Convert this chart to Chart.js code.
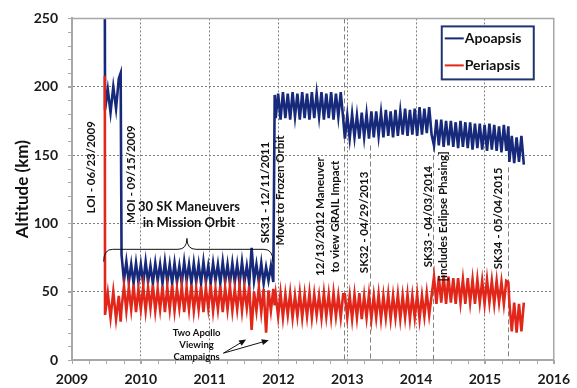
<!DOCTYPE html>
<html>
<head>
<meta charset="utf-8">
<script src="https://cdn.jsdelivr.net/npm/chart.js@4.4.1/dist/chart.umd.min.js"></script>
<style>
  html, body { margin: 0; padding: 0; background: #ffffff; }
  canvas { display: block; }
</style>
</head>
<body>
<canvas id="orbitChart" width="577" height="388"></canvas>
<script>
// ---- Orbit history: sample epochs (decimal years) ----
const orbitYears = [
  // LOI and commissioning orbit
  2009.477, 2009.480, 2009.520, 2009.560, 2009.600, 2009.640, 2009.680, 2009.707,
  // mission orbit
  2009.720, 2009.755, 2009.790, 2009.825, 2009.860, 2009.895, 2009.930, 2009.965,
  2010.000, 2010.035, 2010.070, 2010.105, 2010.140, 2010.175, 2010.210, 2010.245,
  2010.280, 2010.315, 2010.350, 2010.385, 2010.420, 2010.455, 2010.490, 2010.525,
  2010.560, 2010.595, 2010.630, 2010.665, 2010.700, 2010.735, 2010.770, 2010.805,
  2010.840, 2010.875, 2010.910, 2010.945, 2010.980, 2011.015, 2011.050, 2011.085,
  2011.120, 2011.155, 2011.190, 2011.225, 2011.260, 2011.295, 2011.330, 2011.365,
  2011.400, 2011.435, 2011.470, 2011.505, 2011.540, 2011.575, 2011.610, 2011.645,
  2011.680, 2011.715, 2011.750, 2011.785, 2011.820, 2011.855, 2011.890, 2011.925,
  // frozen orbit
  2011.945,
  2011.960, 2011.995, 2012.030, 2012.065, 2012.100, 2012.135, 2012.170, 2012.205,
  2012.240, 2012.275, 2012.310, 2012.345, 2012.380, 2012.415, 2012.450, 2012.485,
  2012.520, 2012.555, 2012.590, 2012.625, 2012.660, 2012.695, 2012.730, 2012.765,
  2012.800, 2012.835, 2012.870, 2012.905, 2012.940,
  // after the GRAIL impact maneuver
  2012.965, 2013.000, 2013.035, 2013.070, 2013.105, 2013.140, 2013.175, 2013.210,
  2013.245, 2013.280, 2013.315, 2013.350, 2013.385, 2013.420, 2013.455, 2013.490,
  2013.525, 2013.560, 2013.595, 2013.630, 2013.665, 2013.700, 2013.735, 2013.770,
  2013.805, 2013.840, 2013.875, 2013.910, 2013.945, 2013.980, 2014.015, 2014.050,
  2014.085, 2014.120, 2014.155, 2014.190, 2014.225,
  // after SK33
  2014.260, 2014.295, 2014.330, 2014.365, 2014.400, 2014.435, 2014.470, 2014.505,
  2014.540, 2014.575, 2014.610, 2014.645, 2014.680, 2014.715, 2014.750, 2014.785,
  2014.820, 2014.855, 2014.890, 2014.925, 2014.960, 2014.995, 2015.030, 2015.065,
  2015.100, 2015.135, 2015.170, 2015.205, 2015.240, 2015.275, 2015.310,
  // after SK34
  2015.340,
  2015.355, 2015.390, 2015.425, 2015.460, 2015.495, 2015.530, 2015.565
];

// ---- Apoapsis altitude (km) ----
const apoapsisKm = [
  260, 183, 198, 181, 200, 184, 206, 210,
  77, 58, 72, 57, 70, 56, 71, 57,
  70, 56, 72, 57, 69, 56, 71, 58,
  70, 56, 72, 57, 70, 56, 71, 57,
  69, 56, 72, 58, 70, 56, 71, 57,
  70, 56, 72, 57, 69, 56, 71, 58,
  70, 56, 72, 57, 70, 56, 71, 57,
  70, 56, 72, 57, 69, 56, 82, 58,
  70, 57, 71, 56, 68, 58, 69, 57,
  194,
  177, 195, 176, 196, 177, 195, 176, 196,
  178, 195, 176, 196, 177, 195, 176, 196,
  177, 195, 178, 196, 176, 195, 177, 196,
  176, 195, 178, 196, 177,
  162, 179, 162, 180, 163, 179, 162, 181,
  163, 180, 162, 182, 163, 182, 164, 181,
  163, 183, 164, 182, 163, 183, 164, 182,
  165, 184, 164, 183, 165, 184, 164, 185,
  165, 184, 166, 185, 165,
  157, 176, 157, 176, 156, 175, 157, 175,
  156, 174, 155, 175, 156, 174, 155, 174,
  154, 173, 155, 173, 154, 172, 153, 173,
  154, 172, 153, 171, 152, 172, 153,
  171,
  145, 164, 144, 163, 145, 164, 143
];

// ---- Periapsis altitude (km) ----
const periapsisKm = [
  208, 33, 49, 31, 50, 30, 47, 28,
  38, 54, 36, 53, 37, 55, 35, 52,
  37, 54, 36, 53, 38, 55, 36, 52,
  37, 54, 35, 53, 37, 55, 36, 52,
  38, 54, 35, 53, 37, 55, 36, 52,
  37, 54, 35, 53, 38, 55, 36, 52,
  37, 54, 35, 53, 37, 54, 36, 52,
  37, 54, 36, 53, 38, 54, 22, 50,
  36, 53, 35, 52, 20, 51, 36, 52,
  40,
  48, 32, 49, 31, 48, 33, 49, 31,
  47, 32, 49, 31, 48, 32, 49, 31,
  48, 33, 47, 31, 49, 32, 48, 31,
  49, 32, 47, 31, 48,
  48, 31, 47, 30, 48, 31, 49, 30,
  47, 31, 48, 30, 47, 31, 48, 30,
  47, 31, 48, 30, 47, 31, 48, 30,
  47, 31, 48, 30, 47, 31, 48, 30,
  47, 32, 49, 33, 47,
  61, 41, 61, 42, 62, 41, 61, 42,
  60, 41, 60, 42, 59, 41, 60, 42,
  59, 41, 59, 42, 58, 41, 59, 42,
  58, 41, 58, 42, 57, 41, 58,
  57,
  42, 21, 42, 20, 41, 21, 42
];

const seriesNames = ['Apoapsis', 'Periapsis'];
const yearTicks = [2009, 2010, 2011, 2012, 2013, 2014, 2015, 2016];
const altitudeTicks = [0, 50, 100, 150, 200, 250];
const axisTitle = 'Altitude (km)';

// Maneuver dates marked with dashed lines
const markerYears = [2012.95, 2013.325, 2014.25, 2015.34];

// Event notes (text only)
const noteTexts = [
  ['LOI - 06/23/2009'],
  ['MOI - 09/15/2009'],
  ['SK31 - 12/11/2011'],
  ['Move to Frozen Orbit'],
  ['12/13/2012 Maneuver', 'to view GRAIL Impact'],
  ['SK32 - 04/29/2013'],
  ['SK33 - 04/03/2014', '[includes Eclipse Phasing]'],
  ['SK34 - 05/04/2015']
];
const braceText = ['30 SK Maneuvers', 'in Mission Orbit'];
const campaignText = ['Two Apollo', 'Viewing', 'Campaigns'];

// ---- Placement of the annotations (data units: year, km) ----
const layout = {
  markerTopKm: [250, 157, 156, 141],
  noteAnchors: [
    [2009.287, 141], [2009.862, 136], [2011.803, 122.5], [2012.033, 124],
    [2012.716, 105], [2013.240, 100.7], [2014.282, 105], [2015.195, 103.6]
  ],
  braceLabel: [2010.70, 106],
  brace: { from: 2009.46, to: 2011.92, tip: 2010.67, endKm: 72, barKm: 81, tipKm: 89 },
  campaignLabel: [2010.81, 11],
  arrowFrom: [2011.20, 5],
  arrowTo: [[2011.53, 15], [2011.86, 14.5]]
};

const APO_COLOR = '#17297a';
const PERI_COLOR = '#e2261a';
const FONT = 'Lato';

function pointsFor(values) {
  return orbitYears.map((t, i) => ({ x: t, y: values[i] }));
}

function verticalText(ctx, lines, cx, cy, gap) {
  ctx.save();
  ctx.translate(cx, cy);
  ctx.rotate(-Math.PI / 2);
  ctx.textAlign = 'center';
  ctx.textBaseline = 'middle';
  const n = lines.length;
  lines.forEach((t, i) => ctx.fillText(t, 0, (i - (n - 1) / 2) * gap));
  ctx.restore();
}

function arrow(ctx, x0, y0, x1, y1) {
  const a = Math.atan2(y1 - y0, x1 - x0);
  const len = 7, half = 3;
  ctx.beginPath();
  ctx.moveTo(x0, y0);
  ctx.lineTo(x1 - Math.cos(a) * len * 0.8, y1 - Math.sin(a) * len * 0.8);
  ctx.stroke();
  ctx.beginPath();
  ctx.moveTo(x1, y1);
  ctx.lineTo(x1 - Math.cos(a) * len - Math.sin(a) * half, y1 - Math.sin(a) * len + Math.cos(a) * half);
  ctx.lineTo(x1 - Math.cos(a) * len + Math.sin(a) * half, y1 - Math.sin(a) * len - Math.cos(a) * half);
  ctx.closePath();
  ctx.fill();
}

const decorPlugin = {
  id: 'decor',
  beforeDatasetsDraw(chart) {
    const { ctx, scales: { x, y }, chartArea } = chart;
    ctx.save();
    ctx.strokeStyle = '#808080';
    ctx.lineWidth = 1;
    ctx.setLineDash([5, 3]);
    markerYears.forEach((yr, i) => {
      const xp = Math.round(x.getPixelForValue(yr)) + 0.5;
      ctx.beginPath();
      ctx.moveTo(xp, y.getPixelForValue(layout.markerTopKm[i]));
      ctx.lineTo(xp, chartArea.bottom);
      ctx.stroke();
    });
    ctx.restore();
  },
  afterDraw(chart) {
    const { ctx, scales: { x, y }, chartArea: ca } = chart;
    ctx.save();

    // frame on top and right
    ctx.strokeStyle = '#a8a8a8';
    ctx.lineWidth = 1.5;
    ctx.beginPath();
    ctx.moveTo(ca.left, ca.top);
    ctx.lineTo(ca.right, ca.top);
    ctx.lineTo(ca.right, ca.bottom);
    ctx.stroke();

    // minor ticks
    ctx.strokeStyle = '#a8a8a8';
    ctx.lineWidth = 1;
    for (let v = 0; v <= 250; v += 10) {
      const yp = Math.round(y.getPixelForValue(v)) + 0.5;
      ctx.beginPath(); ctx.moveTo(ca.left - 4, yp); ctx.lineTo(ca.left, yp); ctx.stroke();
    }
    for (let t = 2009; t <= 2016.001; t += 0.25) {
      const xp = Math.round(x.getPixelForValue(t)) + 0.5;
      ctx.beginPath(); ctx.moveTo(xp, ca.bottom); ctx.lineTo(xp, ca.bottom + 4); ctx.stroke();
    }

    // event notes
    ctx.fillStyle = '#111111';
    ctx.font = `bold 11.5px ${FONT}`;
    noteTexts.forEach((lines, i) => {
      const [yr, km] = layout.noteAnchors[i];
      verticalText(ctx, lines, x.getPixelForValue(yr), y.getPixelForValue(km), 15);
    });

    // brace over the mission orbit
    const b = layout.brace;
    const xl = x.getPixelForValue(b.from), xr = x.getPixelForValue(b.to), xt = x.getPixelForValue(b.tip);
    const ye = y.getPixelForValue(b.endKm), yb = y.getPixelForValue(b.barKm), yt = y.getPixelForValue(b.tipKm);
    const r = 9;
    ctx.strokeStyle = '#111111';
    ctx.lineWidth = 1;
    ctx.beginPath();
    ctx.moveTo(xl, ye);
    ctx.quadraticCurveTo(xl, yb, xl + r, yb);
    ctx.lineTo(xt - r, yb);
    ctx.quadraticCurveTo(xt, yb, xt, yt);
    ctx.quadraticCurveTo(xt, yb, xt + r, yb);
    ctx.lineTo(xr - r, yb);
    ctx.quadraticCurveTo(xr, yb, xr, ye);
    ctx.stroke();

    ctx.font = `bold 13px ${FONT}`;
    ctx.textAlign = 'center';
    ctx.textBaseline = 'middle';
    const bx = x.getPixelForValue(layout.braceLabel[0]);
    const by = y.getPixelForValue(layout.braceLabel[1]);
    braceText.forEach((t, i) => ctx.fillText(t, bx, by + (i - 0.5) * 16));

    // Apollo viewing campaigns note and arrows
    ctx.font = `bold 9.5px ${FONT}`;
    const cx = x.getPixelForValue(layout.campaignLabel[0]);
    const cy = y.getPixelForValue(layout.campaignLabel[1]);
    campaignText.forEach((t, i) => ctx.fillText(t, cx, cy + (i - 1) * 12));
    ctx.fillStyle = '#111111';
    const ax = x.getPixelForValue(layout.arrowFrom[0]), ay = y.getPixelForValue(layout.arrowFrom[1]);
    layout.arrowTo.forEach(([t, km]) => arrow(ctx, ax, ay, x.getPixelForValue(t), y.getPixelForValue(km)));

    // legend box
    const lx = ca.right - 112, ly = ca.top + 8, lw = 92, lh = 53;
    ctx.fillStyle = '#ffffff';
    ctx.fillRect(lx, ly, lw, lh);
    ctx.strokeStyle = '#1f3570';
    ctx.lineWidth = 2;
    ctx.strokeRect(lx, ly, lw, lh);
    ctx.font = `bold 14px ${FONT}`;
    ctx.textAlign = 'left';
    chart.data.datasets.forEach((ds, i) => {
      const yy = ly + 12 + i * 27;
      ctx.strokeStyle = ds.borderColor;
      ctx.lineWidth = 2;
      ctx.beginPath(); ctx.moveTo(lx + 3, yy); ctx.lineTo(lx + 22, yy); ctx.stroke();
      ctx.fillStyle = '#111111';
      ctx.fillText(ds.label, lx + 23, yy + 0.5);
    });

    ctx.restore();
  }
};

function build() {
  Chart.defaults.font.family = FONT;
  Chart.defaults.color = '#1a1a1a';

  new Chart(document.getElementById('orbitChart'), {
    type: 'line',
    data: {
      datasets: [
        { label: seriesNames[0], data: pointsFor(apoapsisKm), borderColor: APO_COLOR, backgroundColor: APO_COLOR,
          borderWidth: 2.6, pointRadius: 0, tension: 0, order: 1 },
        { label: seriesNames[1], data: pointsFor(periapsisKm), borderColor: PERI_COLOR, backgroundColor: PERI_COLOR,
          borderWidth: 2.6, pointRadius: 0, tension: 0, order: 0 }
      ]
    },
    options: {
      responsive: false,
      animation: false,
      devicePixelRatio: 1,
      layout: { padding: { left: 0, top: 15, right: 18, bottom: 0 } },
      plugins: { legend: { display: false }, tooltip: { enabled: false } },
      scales: {
        x: {
          type: 'linear', min: 2009, max: 2016,
          afterBuildTicks: s => { s.ticks = yearTicks.map(v => ({ value: v })); },
          afterFit: s => { s.height = 28; },
          ticks: { font: { size: 14, weight: 'bold' }, color: '#1a1a1a', padding: 7, maxRotation: 0,
                   callback: v => String(v) },
          grid: { color: '#7f7f7f', lineWidth: 1, tickLength: 4, tickColor: '#a8a8a8', tickBorderDash: [] },
          border: { color: '#a8a8a8', width: 2, dash: [2, 2] }
        },
        y: {
          min: 0, max: 250,
          afterBuildTicks: s => { s.ticks = altitudeTicks.map(v => ({ value: v })); },
          afterFit: s => { s.width = 72; },
          ticks: { font: { size: 14, weight: 'bold' }, color: '#1a1a1a', padding: 10 },
          title: { display: true, text: axisTitle, font: { size: 17, weight: 'bold' }, color: '#111111',
                   padding: { top: 12, bottom: 0 } },
          grid: { color: '#7f7f7f', lineWidth: 1, tickLength: 4, tickColor: '#a8a8a8', tickBorderDash: [] },
          border: { color: '#a8a8a8', width: 2, dash: [2, 2] }
        }
      }
    },
    plugins: [decorPlugin]
  });
}

if (document.fonts && document.fonts.load) {
  Promise.all([
    document.fonts.load(`bold 14px ${FONT}`),
    document.fonts.load(`bold 11px ${FONT}`)
  ]).then(build, build);
} else {
  build();
}
</script>
</body>
</html>
